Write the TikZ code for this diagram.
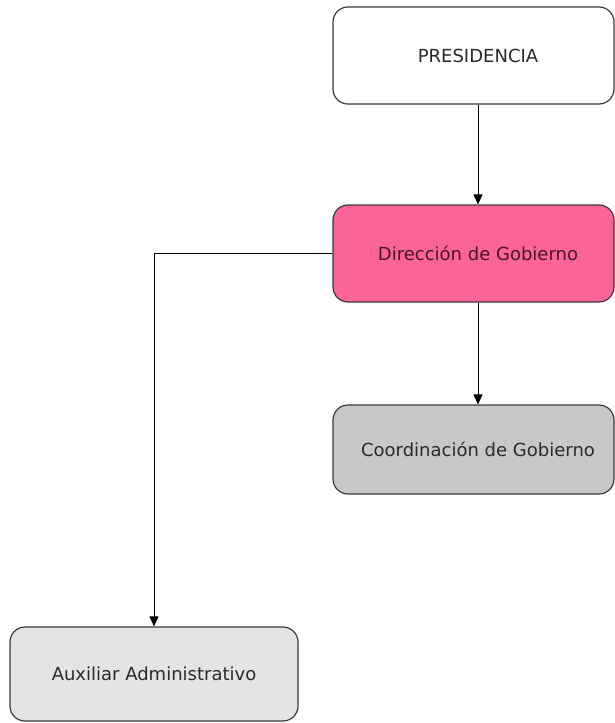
\documentclass[tikz,border=0pt]{standalone}
\usepackage{fontspec}
\setmainfont{DejaVu Sans}
\usetikzlibrary{arrows.meta}
\definecolor{pinkbox}{HTML}{FA6496}
\definecolor{graybox}{HTML}{C8C8C8}
\definecolor{lightbox}{HTML}{E4E4E4}
\definecolor{edge}{HTML}{3A3A3A}
\definecolor{txt}{HTML}{2A2A2A}
\definecolor{dirtxt}{HTML}{4A1428}
\newcommand{\shiftr}{\hspace*{9pt}}
\begin{document}
\begin{tikzpicture}[x=1pt,y=-1pt,
  unit/.style={draw=edge,line width=1.2pt,rounded corners=15pt,inner sep=0pt,
    font=\fontsize{18}{21}\selectfont,text=txt},
  link/.style={black,line width=1pt,-{Triangle[length=10pt,width=9pt]}}]
\useasboundingbox (0,0) rectangle (615,723);
\node[unit,fill=white,minimum width=281pt,minimum height=97pt] (pres) at (473.5,55.5) {\shiftr PRESIDENCIA};
\node[unit,fill=pinkbox,text=dirtxt,minimum width=281pt,minimum height=97pt] (dir) at (473.5,253.5) {\shiftr Dirección de Gobierno};
\node[unit,fill=graybox,minimum width=281pt,minimum height=89pt] (coord) at (473.5,449.5) {\shiftr Coordinación de Gobierno};
\node[unit,fill=lightbox,minimum width=288pt,minimum height=94pt] (aux) at (154,674) {Auxiliar Administrativo};
\draw[link] ([xshift=4.5pt]pres.south) -- ([xshift=4.5pt]dir.north);
\draw[link] ([xshift=4.5pt]dir.south) -- ([xshift=4.5pt]coord.north);
\draw[link] (dir.west) -| (aux.north);
\end{tikzpicture}
\end{document}
